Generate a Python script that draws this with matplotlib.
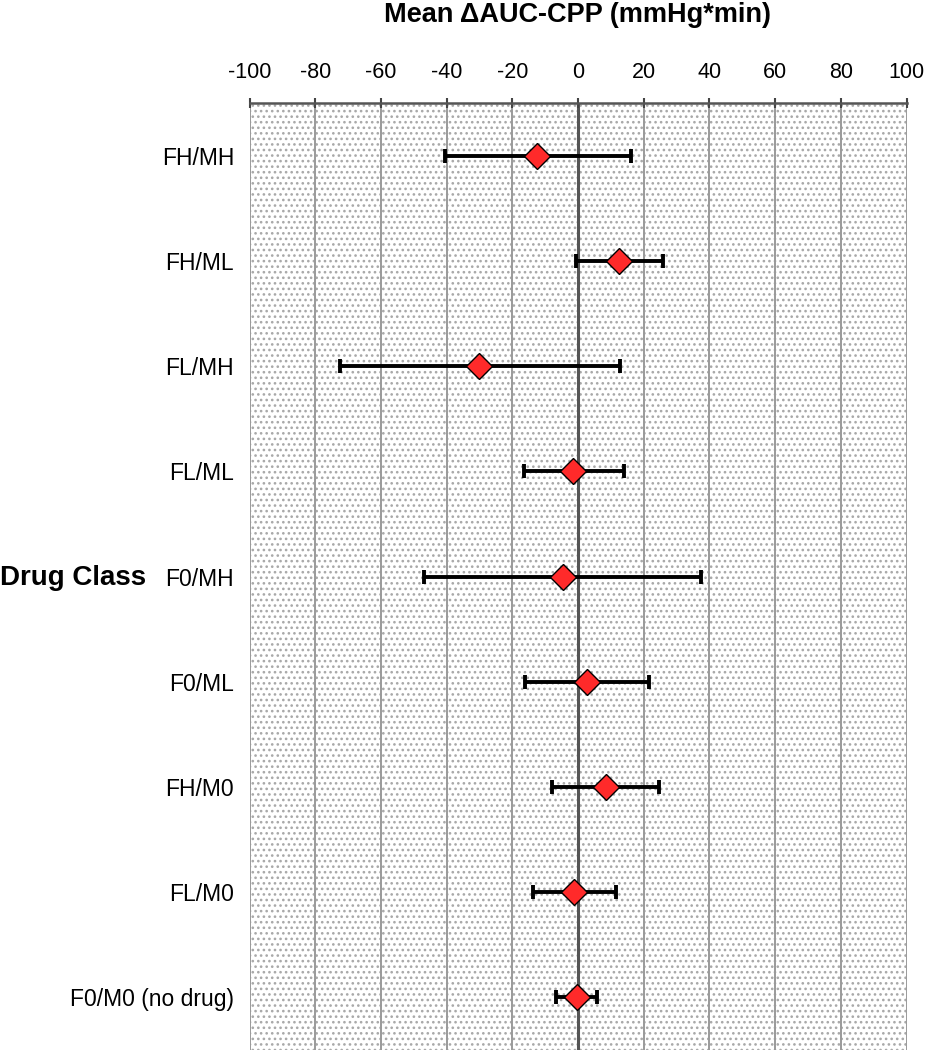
import matplotlib
matplotlib.use('Agg')
import matplotlib.pyplot as plt
from matplotlib.patches import Rectangle
import numpy as np

plt.rcParams['font.family'] = ['Liberation Sans', 'DejaVu Sans']
plt.rcParams['hatch.linewidth'] = 1.1

classes = ['FH/MH', 'FH/ML', 'FL/MH', 'FL/ML', 'F0/MH', 'F0/ML', 'FH/M0', 'FL/M0', 'F0/M0 (no drug)']
mean_vals = np.array([-12.4, 12.5, -30.0, -1.5, -4.7, 2.6, 8.4, -1.2, -0.4])
low_vals = np.array([-40.5, -0.6, -72.5, -16.5, -46.9, -16.1, -8.0, -13.6, -6.7])
high_vals = np.array([16.1, 25.9, 12.8, 14.0, 37.5, 21.6, 24.7, 11.5, 5.7])
x_ticks = list(range(-100, 101, 20))

W, H = 926, 1050
fig = plt.figure(figsize=(W / 100, H / 100), dpi=100)
ax = fig.add_axes([249.5 / W, 0.0, (906.5 - 249.5) / W, 1 - 103 / H])

# dotted background
bg = Rectangle((0, 0), 1, 1, transform=ax.transAxes, facecolor='white',
               edgecolor='#a8a8a8', hatch='...', linewidth=0, zorder=0)
ax.add_patch(bg)

y = np.arange(len(classes))

for t in x_ticks:
    if t == 0:
        ax.axvline(t, color='#555555', lw=2.2, zorder=1)
    else:
        ax.axvline(t, color='#9a9a9a', lw=1.4, zorder=1)

ax.errorbar(mean_vals, y, xerr=[mean_vals - low_vals, high_vals - mean_vals],
            fmt='none', ecolor='black', elinewidth=2.8, capsize=5, capthick=2.8, zorder=3)
ax.plot(mean_vals, y, linestyle='none', marker='D', markersize=13.5,
        markerfacecolor='#ff2a2a', markeredgecolor='black', markeredgewidth=1.0, zorder=4)

ax.set_xlim(-100, 100)
ax.set_ylim(len(classes) - 0.5, -0.5)
ax.xaxis.tick_top()
ax.set_xticks(x_ticks)
ax.set_xticklabels([str(t) for t in x_ticks])
ax.tick_params(axis='x', direction='inout', length=7, width=1.5, color='#444444',
               labelsize=15.5, pad=11)
ax.set_yticks(y)
ax.set_yticklabels(classes)
ax.tick_params(axis='y', length=0, labelsize=16.5, pad=11)

for s in ['left', 'right', 'bottom']:
    ax.spines[s].set_visible(False)
ax.spines['top'].set_color('#555555')
ax.spines['top'].set_linewidth(1.8)
ax.spines['top'].set_zorder(5)

fig.text(577 / W, 1 - 22 / H, 'Mean \u0394AUC-CPP (mmHg*min)', ha='center', va='baseline',
         fontsize=19.5, fontweight='bold')
fig.text(0.0, 1 - 578 / H, 'Drug Class', ha='left', va='center',
         fontsize=20, fontweight='bold')

fig.savefig('out.png', dpi=100)
